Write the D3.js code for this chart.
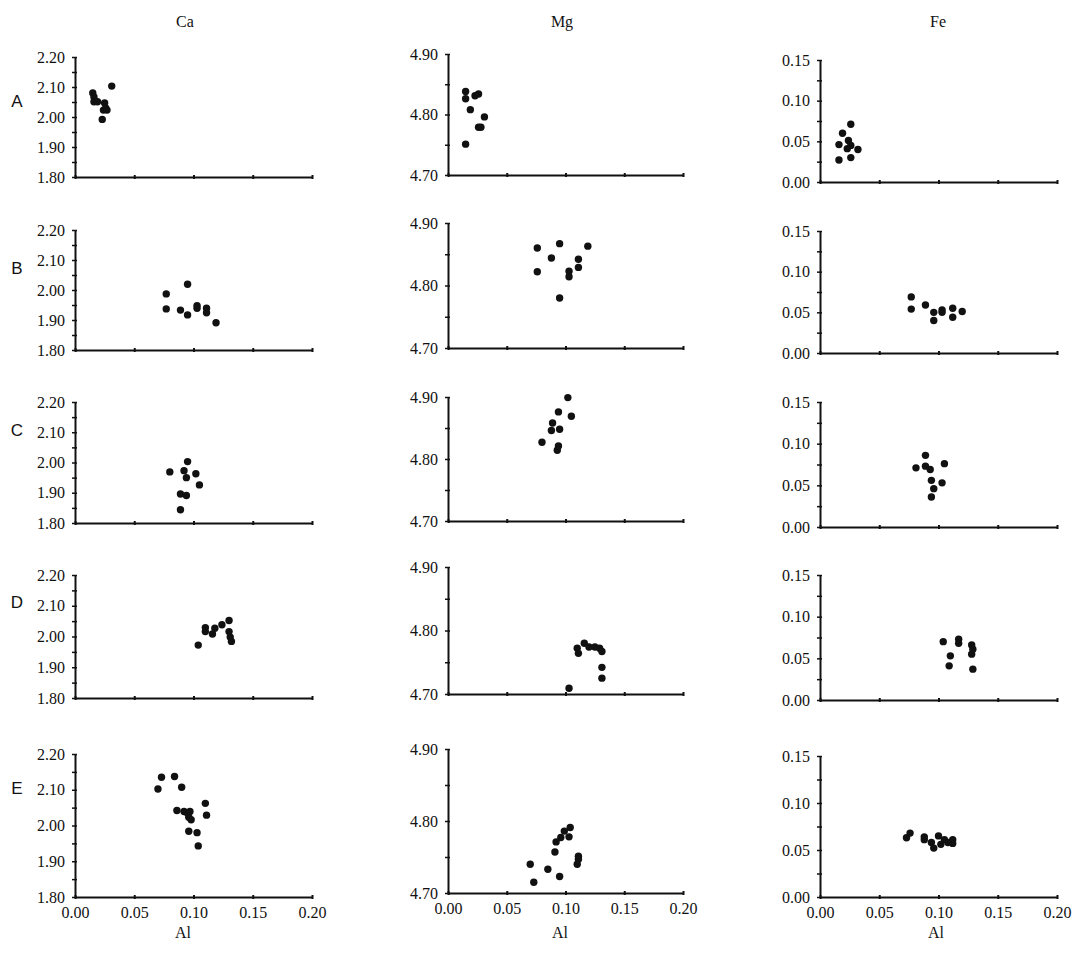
<!DOCTYPE html>
<html>
<head>
<meta charset="utf-8">
<script src="https://cdn.jsdelivr.net/npm/d3@7"></script>
<style>
  body { margin: 0; background: #fff; }
  svg text { font-family: "Liberation Serif", "Times New Roman", serif; fill: #111; }
  .rowLabel { font-family: "Liberation Sans", Arial, sans-serif !important; }
</style>
</head>
<body>
<svg></svg>
<script>
// categories
let elements = ['Ca', 'Mg', 'Fe'];
let rowNames = ['A', 'B', 'C', 'D', 'E'];

// tick labels
let xTicks = [0.00, 0.05, 0.10, 0.15, 0.20];
let caTicks = [1.80, 1.90, 2.00, 2.10, 2.20];
let mgTicks = [4.70, 4.80, 4.90];
let feTicks = [0.00, 0.05, 0.10, 0.15];

// Al values (x) and element values (y), one pair of arrays per panel
let caA_al = [0.015, 0.016, 0.016, 0.019, 0.025, 0.026, 0.024, 0.027, 0.023, 0.031];
let caA = [2.08, 2.067, 2.051, 2.051, 2.047, 2.029, 2.023, 2.023, 1.992, 2.103];
let mgA_al = [0.015, 0.015, 0.023, 0.026, 0.019, 0.031, 0.026, 0.028, 0.015];
let mgA = [4.838, 4.826, 4.831, 4.834, 4.808, 4.796, 4.779, 4.779, 4.751];
let feA_al = [0.019, 0.026, 0.016, 0.024, 0.026, 0.023, 0.032, 0.026, 0.016];
let feA = [0.060, 0.071, 0.046, 0.051, 0.045, 0.041, 0.040, 0.030, 0.027];

let caB_al = [0.077, 0.077, 0.089, 0.095, 0.095, 0.103, 0.103, 0.111, 0.111, 0.119];
let caB = [1.987, 1.937, 1.933, 2.019, 1.917, 1.948, 1.939, 1.939, 1.924, 1.891];
let mgB_al = [0.076, 0.076, 0.088, 0.095, 0.095, 0.103, 0.103, 0.111, 0.111, 0.119];
let mgB = [4.860, 4.822, 4.844, 4.867, 4.780, 4.823, 4.814, 4.842, 4.829, 4.863];
let feB_al = [0.077, 0.077, 0.089, 0.096, 0.096, 0.103, 0.103, 0.112, 0.112, 0.120];
let feB = [0.069, 0.054, 0.059, 0.050, 0.040, 0.053, 0.050, 0.055, 0.044, 0.051];

let caC_al = [0.080, 0.095, 0.092, 0.094, 0.102, 0.105, 0.089, 0.094, 0.089];
let caC = [1.969, 2.003, 1.973, 1.950, 1.963, 1.926, 1.896, 1.891, 1.844];
let mgC_al = [0.102, 0.094, 0.105, 0.089, 0.088, 0.095, 0.080, 0.094, 0.093];
let mgC = [4.899, 4.876, 4.869, 4.858, 4.846, 4.848, 4.827, 4.821, 4.814];
let feC_al = [0.089, 0.081, 0.089, 0.093, 0.105, 0.094, 0.103, 0.096, 0.094];
let feC = [0.086, 0.071, 0.073, 0.069, 0.076, 0.056, 0.053, 0.046, 0.036];

let caD_al = [0.104, 0.110, 0.110, 0.116, 0.118, 0.124, 0.130, 0.130, 0.132, 0.131];
let caD = [1.972, 2.016, 2.029, 2.008, 2.027, 2.038, 2.052, 2.016, 1.984, 1.998];
let mgD_al = [0.103, 0.110, 0.111, 0.116, 0.120, 0.125, 0.129, 0.131, 0.131, 0.131];
let mgD = [4.709, 4.772, 4.764, 4.780, 4.774, 4.774, 4.772, 4.767, 4.742, 4.725];
let feD_al = [0.104, 0.110, 0.109, 0.117, 0.117, 0.128, 0.129, 0.128, 0.129];
let feD = [0.070, 0.053, 0.041, 0.073, 0.068, 0.066, 0.061, 0.055, 0.037];

let caE_al = [0.070, 0.073, 0.084, 0.090, 0.086, 0.092, 0.095, 0.097, 0.096, 0.098, 0.096, 0.103, 0.104, 0.110, 0.111];
let caE = [2.102, 2.135, 2.137, 2.107, 2.042, 2.039, 2.034, 2.039, 2.023, 2.016, 1.984, 1.980, 1.943, 2.062, 2.029];
let mgE_al = [0.070, 0.073, 0.085, 0.095, 0.091, 0.092, 0.096, 0.099, 0.103, 0.104, 0.111, 0.111, 0.110];
let mgE = [4.740, 4.715, 4.733, 4.723, 4.757, 4.771, 4.777, 4.786, 4.778, 4.791, 4.751, 4.747, 4.740];
let feE_al = [0.073, 0.076, 0.088, 0.088, 0.094, 0.096, 0.100, 0.105, 0.102, 0.112, 0.112, 0.108];
let feE = [0.063, 0.068, 0.064, 0.061, 0.058, 0.052, 0.065, 0.061, 0.056, 0.061, 0.057, 0.058];

let width = 1077;
let height = 955;

// layout of the scanned figure: x range of each column, y range of each panel
let colX = [[75, 312], [448, 683], [820, 1057]];
let panelY = [
    [[57, 177], [54, 175], [60, 182]],
    [[230, 350], [223, 348], [231, 353]],
    [[402, 523], [397, 521], [402, 527]],
    [[575, 698], [567, 694], [575, 700]],
    [[754, 897], [749, 893], [756, 897]]
];
let rowLabelY = [103, 270, 432, 604, 790];
let titleX = [185, 562, 938];
let alY = [938, 938, 938];

let svg = d3.select('svg');

let panels = [
    ['Ca', 0, caA_al, caA], ['Mg', 0, mgA_al, mgA], ['Fe', 0, feA_al, feA],
    ['Ca', 1, caB_al, caB], ['Mg', 1, mgB_al, mgB], ['Fe', 1, feB_al, feB],
    ['Ca', 2, caC_al, caC], ['Mg', 2, mgC_al, mgC], ['Fe', 2, feC_al, feC],
    ['Ca', 3, caD_al, caD], ['Mg', 3, mgD_al, mgD], ['Fe', 3, feD_al, feD],
    ['Ca', 4, caE_al, caE], ['Mg', 4, mgE_al, mgE], ['Fe', 4, feE_al, feE]
];

let tickSets = { Ca: caTicks, Mg: mgTicks, Fe: feTicks };

let drawChart = () => {
    svg.attr('width', width)
    svg.attr('height', height)
}

let drawPanel = ([el, row, al, vals]) => {
    let col = elements.indexOf(el);
    let ticks = tickSets[el];
    let step = ticks[1] - ticks[0];
    let [yTop, yBottom] = panelY[row][col];

    let xScale = d3.scaleLinear()
                .domain([xTicks[0], xTicks[xTicks.length - 1]])
                .range(colX[col])
    let yScale = d3.scaleLinear()
                .domain([ticks[0], ticks[ticks.length - 1]])
                .range([yBottom, yTop])

    let g = svg.append('g')

    // minor ticks halfway between labelled ones
    let allTicks = d3.range(ticks.length * 2 - 1).map(i => ticks[0] + i * step / 2);

    let yAxis = d3.axisLeft(yScale)
                .tickValues(allTicks)
                .tickFormat((d, i) => i % 2 === 0 ? d3.format('.2f')(d) : '')
                .tickSizeOuter(0)
                .tickSizeInner(3)
                .tickPadding(7)

    g.append('g')
        .attr('transform', `translate(${colX[col][0]}, 0)`)
        .call(yAxis)
        .call(a => a.selectAll('line').attr('x1', 2).attr('stroke-width', 1.5))

    let xAxis = d3.axisBottom(xScale)
                .tickValues(xTicks)
                .tickFormat(row === rowNames.length - 1 ? d3.format('.2f') : '')
                .tickSizeOuter(0)
                .tickSizeInner(2)
                .tickPadding(8)

    g.append('g')
        .attr('transform', `translate(0, ${yBottom})`)
        .call(xAxis)
        .call(a => a.selectAll('line').attr('y1', -2).attr('stroke-width', 2))

    g.selectAll('.domain').attr('stroke', '#111').attr('stroke-width', 2)
    g.selectAll('.tick line').attr('stroke', '#111')
    g.selectAll('.tick text')
        .attr('font-size', 16)
        .attr('font-family', '"Liberation Serif", serif')
        .attr('fill', '#111')

    g.selectAll('circle')
        .data(d3.zip(al, vals))
        .enter()
        .append('circle')
        .attr('cx', d => xScale(d[0]))
        .attr('cy', d => yScale(d[1]))
        .attr('r', 3.7)
        .attr('fill', '#111')
}

let drawLabels = () => {
    elements.forEach((el, i) => {
        svg.append('text')
            .attr('x', titleX[i])
            .attr('y', 27)
            .attr('text-anchor', 'middle')
            .attr('font-size', 16)
            .text(el)

        svg.append('text')
            .attr('x', titleX[i] - 2)
            .attr('y', alY[i])
            .attr('text-anchor', 'middle')
            .attr('font-size', 16)
            .text('Al')
    })

    rowNames.forEach((r, i) => {
        svg.append('text')
            .attr('class', 'rowLabel')
            .attr('x', 17)
            .attr('y', rowLabelY[i])
            .attr('text-anchor', 'middle')
            .attr('dominant-baseline', 'middle')
            .attr('font-size', 17)
            .text(r)
    })
}

drawChart()
panels.forEach(drawPanel)
drawLabels()
</script>
</body>
</html>
